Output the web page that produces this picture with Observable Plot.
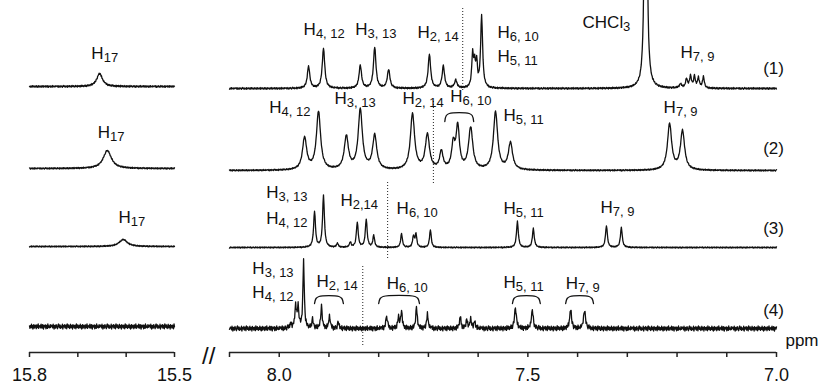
<!DOCTYPE html>
<html><head><meta charset="utf-8">
<script src="https://cdn.jsdelivr.net/npm/d3@7"></script>
<script src="https://cdn.jsdelivr.net/npm/@observablehq/plot@0.6"></script>
<style>body{margin:0;background:#fff;} #chart svg{display:block}</style>
</head><body><div id="chart"></div>
<script>
// ---- data ----
const spectra = ["(1)", "(2)", "(3)", "(4)"];
const baseRight = [296, 214, 137, 56];   // trace baselines (intensity units)
const baseLeft  = [298, 216, 138, 58];
const noiseAmp  = [1.0, 0.8, 0.7, 2.8];
// peaks: [ppm, height, half-width (ppm)]
const peaks1 = [[7.941,22,.003],[7.911,40,.003],[7.837,23,.003],[7.808,41,.003],[7.780,19,.003],[7.698,34,.003],[7.670,22,.003],[7.645,8,.003],[7.611,33,.0022],[7.607,20,.0018],[7.603,24,.0018],[7.593,72,.0024],[7.263,700,.0017],[7.193,4,.003],[7.181,9,.0022],[7.173,12,.0022],[7.165,11,.0022],[7.157,10,.0022],[7.147,11,.0022]];
const peaks1L = [[15.655,13,.007]];
const peaks2 = [[7.949,32,.005],[7.921,58,.005],[7.865,33,.005],[7.837,60,.005],[7.808,34,.005],[7.732,56,.005],[7.702,35,.005],[7.674,18,.004],[7.650,24,.004],[7.641,42,.004],[7.615,42,.005],[7.565,58,.005],[7.535,27,.005],[7.215,46,.005],[7.189,39,.005]];
const peaks2L = [[15.639,18,.010]];
const peaks3 = [[7.929,36,.0022],[7.911,52,.0022],[7.883,4,.002],[7.857,5,.002],[7.843,25,.0022],[7.825,28,.0022],[7.810,12,.002],[7.754,14,.002],[7.730,11,.002],[7.725,13,.002],[7.696,18,.002],[7.521,26,.0022],[7.489,19,.0022],[7.342,22,.0022],[7.312,20,.0022]];
const peaks3L = [[15.606,7,.010]];
const peaks4 = [[7.977,5,.0018],[7.967,22,.0018],[7.962,21,.0018],[7.951,68,.0016],[7.933,9,.0018],[7.915,22,.0018],[7.899,12,.0018],[7.881,6,.0018],[7.784,13,.0018],[7.760,11,.0018],[7.754,17,.0018],[7.724,21,.0018],[7.702,14,.0018],[7.636,12,.0018],[7.623,8,.0018],[7.615,9,.0018],[7.607,7,.0018],[7.525,21,.0022],[7.491,18,.0022],[7.414,19,.0022],[7.386,19,.0022]];
const peaks4L = [];
const peaksRight = [peaks1, peaks2, peaks3, peaks4];
const peaksLeft  = [peaks1L, peaks2L, peaks3L, peaks4L];
const noise = [0.3,-0.5,0.8,-0.2,-0.9,0.4,0.1,-0.6,0.7,0.2,-0.3,-0.8,0.5,0.9,-0.1,-0.4,0.6,-0.7,0.2,0.0,-0.5,0.8,-0.9,0.3,0.4,-0.2,0.7,-0.6,-0.1,0.5,-0.8,0.9,0.1,-0.3,0.6,-0.4,-0.7,0.2,0.8,-0.5,0.0,0.4,-0.9,0.7,-0.2,0.3,-0.6,0.5,0.1,-0.8,0.9,-0.1,-0.4,0.6,0.2,-0.7,0.3,-0.3,0.8,-0.5,0.4,-0.9,0.1,0.7,-0.6,0.0,0.5,-0.2,-0.8,0.6,0.3,-0.4,0.9,-0.7,0.2,-0.1,0.4,-0.5,0.8,-0.3,-0.6,0.7,0.1,-0.9,0.5,0.0,-0.2,0.6,-0.8,0.3,0.4,-0.7,0.9,-0.4,0.2,-0.1,-0.5,0.7,-0.3,0.1,0.5];

// labels: x (ppm), y (baseline of H), subscript
const hLabels = [
  {x:7.951,y:350,sub:"4, 12"},{x:7.847,y:350,sub:"3, 13"},{x:7.722,y:347,sub:"2, 14"},
  {x:7.561,y:347,sub:"6, 10"},{x:7.561,y:323,sub:"5, 11"},{x:7.193,y:327,sub:"7, 9"},
  {x:8.020,y:272,sub:"4, 12"},{x:7.889,y:281,sub:"3, 13"},{x:7.752,y:281,sub:"2, 14"},
  {x:7.656,y:283,sub:"6, 10"},{x:7.549,y:264,sub:"5, 11"},{x:7.227,y:272,sub:"7, 9"},
  {x:8.026,y:187,sub:"3, 13"},{x:8.026,y:161,sub:"4, 12"},{x:7.877,y:179,sub:"2,14"},
  {x:7.764,y:171,sub:"6, 10"},{x:7.549,y:171,sub:"5, 11"},{x:7.354,y:172,sub:"7, 9"},
  {x:8.054,y:111,sub:"3, 13"},{x:8.054,y:87,sub:"4, 12"},{x:7.925,y:98,sub:"2, 14"},
  {x:7.784,y:96,sub:"6, 10"},{x:7.549,y:97,sub:"5, 11"},{x:7.424,y:96,sub:"7, 9"},
  {x:15.672,y:326,sub:"17"},{x:15.659,y:247,sub:"17"},{x:15.616,y:162,sub:"17"}
];
const solventLabel = [{x:7.390, y:357, main:"CHCl", sub:"3"}];
const traceLabelX = 7.006;
const traceLabelY = [311, 231, 151, 69];
// dotted reference lines
const dotPpm = [7.631, 7.690, 7.782, 7.832];
const dotTop = [376, 284, 204, 118];
const dotBottom = [294, 201, 126, 39];
// brackets [from ppm, to ppm, top, depth]
const brackets = [[7.667,7.609,271,8],[7.929,7.871,88,7],[7.800,7.718,88,7],[7.531,7.475,88,7],[7.424,7.368,88,7]];
// axis
const leftTicks = [15.8, 15.7, 15.6, 15.5];
const rightTicks = [8.1, 8.0, 7.9, 7.8, 7.7, 7.6, 7.5, 7.4, 7.3, 7.2, 7.1, 7.0];
const tickLabels = [15.8, 15.5, 8.0, 7.5, 7.0];
const axisSegments = [{x1:15.8, x2:15.5}, {x1:8.1, x2:7.0}];
const axisY = 32, tickLen = 5, tickLabelY = 4;
const breakX = 10.9, breakY = 21;
const unitLabel = {x:6.982, y:39, text:"ppm"};

// broken ppm axis: two panels (15.8–15.5 and 8.1–7.0)
const brokenAxis = d3.scaleLinear().domain([15.8, 15.5, 8.1, 7.0]).range([29, 174, 229, 776]);

// ---- build traces ----
const step = 0.001;
const lineData = [];
function trace(s, from, to, peaks, base, key) {
  let i = 0;
  for (let p = from; p >= to - 1e-9; p -= step, i++) {
    let v = 0;
    for (const [c, h, g] of peaks) v += h / (1 + ((p - c) / g) ** 2);
    v += noiseAmp[s] * noise[(i + s * 37 + key.length * 11) % noise.length];
    lineData.push({ppm: p, y: base + v, key});
  }
}
spectra.forEach((name, s) => {
  trace(s, 15.8, 15.5, peaksLeft[s], baseLeft[s], name + "L");
  trace(s, 8.1, 7.0, peaksRight[s], baseRight[s], name + "Right");
});
const bracketData = [];
brackets.forEach(([a, b, top, d], k) => {
  const pts = [[a, top - d], [a - 0.003, top - 2], [a - 0.009, top], [b + 0.009, top], [b + 0.003, top - 2], [b, top - d]];
  pts.forEach(([x, y]) => bracketData.push({x, y, k}));
});
const dots = dotPpm.map((p, i) => ({x: p, y1: dotBottom[i], y2: dotTop[i]}));

const font = "'Liberation Sans', Arial, Helvetica, sans-serif";
const chart = Plot.plot({
  width: 820, height: 384, margin: 0,
  style: {fontFamily: font, color: "#111", background: "#fff"},
  x: {type: "linear", transform: brokenAxis, domain: [0, 820], range: [0, 820], axis: null},
  y: {domain: [0, 384], range: [384, 0], axis: null},
  marks: [
    Plot.ruleX(dots, {x: "x", y1: "y1", y2: "y2", stroke: "#222", strokeWidth: 1, strokeDasharray: "1,2"}),
    Plot.line(lineData, {x: "ppm", y: "y", z: "key", stroke: "#111", strokeWidth: 1.3}),
    Plot.line(bracketData, {x: "x", y: "y", z: "k", stroke: "#111", strokeWidth: 1.3, curve: "catmull-rom"}),
    Plot.text(hLabels, {x: "x", y: "y", text: () => "H", textAnchor: "start", lineAnchor: "bottom", fontSize: 17, fill: "#111"}),
    Plot.text(hLabels, {x: "x", y: "y", text: "sub", textAnchor: "start", lineAnchor: "bottom", fontSize: 13, dx: 12.3, dy: 3, fill: "#111"}),
    Plot.text(solventLabel, {x: "x", y: "y", text: "main", textAnchor: "start", lineAnchor: "bottom", fontSize: 17, fill: "#111"}),
    Plot.text(solventLabel, {x: "x", y: "y", text: "sub", textAnchor: "start", lineAnchor: "bottom", fontSize: 13, dx: 40.5, dy: 3, fill: "#111"}),
    Plot.text(spectra, {x: () => traceLabelX, y: (d, i) => traceLabelY[i], text: d => d, textAnchor: "middle", lineAnchor: "bottom", fontSize: 17, fill: "#111"}),
    Plot.ruleY(axisSegments, {y: () => axisY, x1: "x1", x2: "x2", stroke: "#222", strokeWidth: 1.5}),
    Plot.ruleX(leftTicks.concat(rightTicks), {x: d => d, y1: axisY - tickLen, y2: axisY, stroke: "#222", strokeWidth: 1.5}),
    Plot.text(tickLabels, {x: d => d, y: () => tickLabelY, text: d => d.toFixed(1), textAnchor: "middle", lineAnchor: "bottom", fontSize: 18, fill: "#111"}),
    Plot.text([unitLabel], {x: "x", y: "y", text: "text", textAnchor: "start", lineAnchor: "bottom", fontSize: 17, fill: "#111"}),
    Plot.text(["//"], {x: () => breakX, y: () => breakY, text: d => d, textAnchor: "middle", lineAnchor: "bottom", fontSize: 24, fill: "#111"})
  ]
});
document.getElementById("chart").appendChild(chart);
</script>
</body></html>
